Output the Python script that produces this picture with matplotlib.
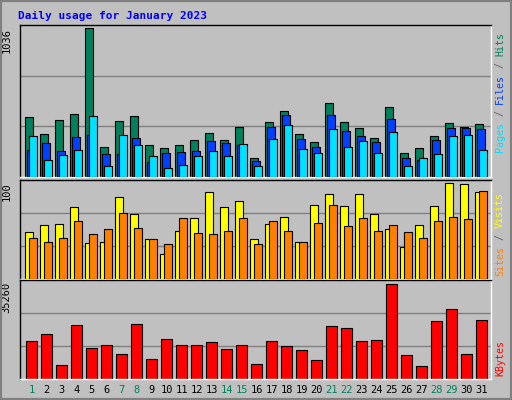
import matplotlib
matplotlib.use("Agg")
import matplotlib.pyplot as plt
from matplotlib.patches import Rectangle
import numpy as np

days = list(range(1, 32))
weekend = [1, 7, 8, 14, 15, 21, 22, 28, 29]
hits = [417, 298, 396, 438, 1036, 206, 389, 424, 220, 199, 220, 255, 305, 255, 347, 129,
        382, 459, 298, 241, 516, 382, 340, 270, 488, 164, 199, 284, 375, 347, 368]
files = [185, 234, 178, 277, 291, 157, 157, 270, 101, 164, 171, 178, 248, 234, 220, 108,
         347, 431, 263, 206, 431, 319, 284, 241, 403, 129, 115, 255, 340, 340, 333]
pages = [284, 115, 150, 185, 424, 73, 291, 220, 143, 66, 80, 143, 178, 143, 227, 73,
         263, 361, 192, 164, 333, 206, 248, 164, 312, 73, 129, 157, 284, 291, 185]
visits = [49, 56, 57, 75, 37, 39, 85, 68, 42, 26, 50, 63, 90, 75, 81, 42,
          57, 65, 39, 77, 88, 76, 88, 68, 52, 33, 56, 76, 100, 99, 91]
sites = [43, 39, 43, 60, 47, 52, 69, 53, 42, 36, 63, 48, 47, 50, 63, 36,
         60, 50, 39, 58, 77, 55, 63, 50, 56, 49, 43, 60, 65, 62, 92]
kbytes = [14028, 16731, 5148, 20206, 11712, 12484, 9395, 20592, 7465, 14800, 12484, 12484,
          13642, 11326, 12484, 5534, 14028, 12098, 10940, 7079, 19820, 19048, 14028, 14414,
          35260, 9009, 4762, 21750, 25997, 9395, 22136]

BG = "#c0c0c0"
GREEN = "#00805c"
fig = plt.figure(figsize=(5.12, 4.0), dpi=100, facecolor=BG)
x = np.array(days, dtype=float)
mono = "DejaVu Sans Mono"

# bevel border
fig.patches.append(Rectangle((0, 0), 1, 1, transform=fig.transFigure, fill=False,
                             edgecolor="#808080", lw=3))

def mkax(top, bottom):
    ax = fig.add_axes([20/512, 1 - bottom/400, 471/512, (bottom - top)/400])
    ax.set_facecolor(BG)
    ax.set_xlim(0.233, 31.63)
    for s in ax.spines.values():
        s.set_color("black"); s.set_linewidth(1)
    ax.spines["right"].set_color("white")
    ax.spines["bottom"].set_color("white")
    ax.set_yticks([])
    ax.set_xticks([])
    return ax

def grid(ax, top):
    for f in (1/3, 2/3):
        ax.axhline(top * f, color="#808080", lw=1, zorder=0)

# top panel
ax1 = mkax(25, 177)
t1 = max(hits) * 1.02
ax1.set_ylim(0, t1)
grid(ax1, t1)
w = 0.49
ax1.bar(x - 0.42, hits, w, align="edge", color=GREEN, edgecolor="black", lw=0.8, zorder=2)
ax1.bar(x - 0.42 + 0.133, files, w, align="edge", color="#0040ff", edgecolor="black", lw=0.8, zorder=3)
ax1.bar(x - 0.42 + 0.266, pages, w, align="edge", color="#00e0ff", edgecolor="black", lw=0.8, zorder=4)

# middle
ax2 = mkax(180, 279)
t2 = max(visits) * 1.03
ax2.set_ylim(0, t2)
grid(ax2, t2)
ax2.bar(x - 0.42, visits, 0.53, align="edge", color="#ffff00", edgecolor="black", lw=0.8, zorder=2)
ax2.bar(x - 0.42 + 0.27, sites, 0.53, align="edge", color="#ff8000", edgecolor="black", lw=0.8, zorder=3)

# bottom
ax3 = mkax(280, 379)
t3 = max(kbytes) * 1.045
ax3.set_ylim(0, t3)
grid(ax3, t3)
ax3.bar(x, kbytes, 0.69, color="#ff0000", edgecolor="black", lw=0.8, zorder=2)
ax3.set_xticks(x)
ax3.set_xticklabels([str(d) for d in days], family=mono, fontsize=7.5)
ax3.tick_params(axis="x", length=0, pad=4)
for lab, d in zip(ax3.get_xticklabels(), days):
    lab.set_color(GREEN if d in weekend else "black")

# title
fig.text(18/512, 1 - 16/400, "Daily usage for January 2023", family=mono, fontsize=8,
         fontweight="bold", color="#0000ff", va="center", ha="left")

# max labels
for ax, txt in ((ax1, str(max(hits))), (ax2, str(max(visits))), (ax3, str(max(kbytes)))):
    ax.text(-0.018, 0.98, txt, transform=ax.transAxes, rotation=90, ha="right", va="top",
            family=mono, fontsize=7.5, color="black")

# right legends (built from bottom up)
cw = 6.0
def vlabel(y0, parts):
    y = y0
    for s, c in parts:
        fig.text(500/512, y/400, s, rotation=90, rotation_mode="anchor", ha="left",
                 va="center", family=mono, fontsize=7.2, color=c)
        y += cw * len(s)

vlabel(400 - 152, [("Pages", "#00e0ff"), (" / ", "#606060"), ("Files", "#0040ff"),
                   (" / ", "#606060"), ("Hits", GREEN)])
vlabel(400 - 276, [("Sites", "#ff8000"), (" / ", "#606060"), ("Visits", "#ffff00")])
vlabel(400 - 376, [("KBytes", "#ff0000")])

fig.savefig("out.png", dpi=100, facecolor=BG)
